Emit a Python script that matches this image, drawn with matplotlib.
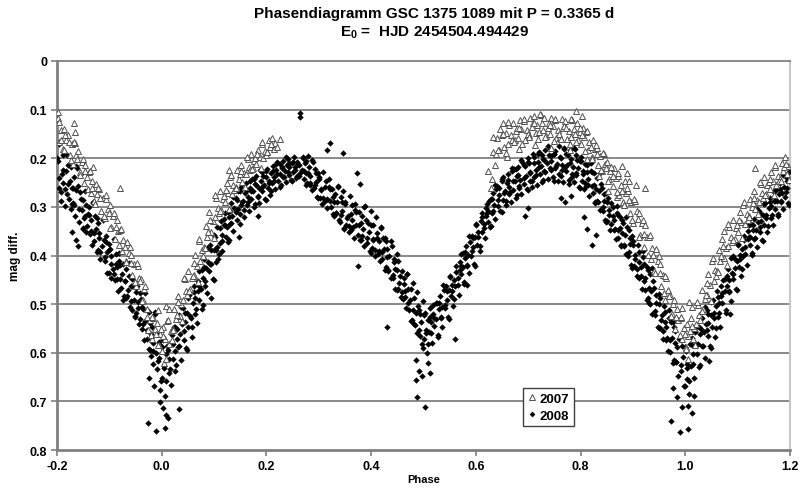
import matplotlib
matplotlib.use("Agg")
import matplotlib.pyplot as plt
from matplotlib.lines import Line2D

plt.rcParams["font.family"] = ["Liberation Sans", "DejaVu Sans"]
plt.rcParams["mathtext.fontset"] = "custom"
plt.rcParams["mathtext.rm"] = "Liberation Sans"
plt.rcParams["mathtext.bf"] = "Liberation Sans:bold"

title_1 = "Phasendiagramm GSC 1375 1089 mit P = 0.3365 d"
title_2 = r"E$_\mathbf{0}$ =  HJD 2454504.494429"
x_label = "Phase"
y_label = "mag diff."
x_ticks = [-0.2, 0.0, 0.2, 0.4, 0.6, 0.8, 1.0, 1.2]
x_tick_labels = ["-0.2", "0.0", "0.2", "0.4", "0.6", "0.8", "1.0", "1.2"]
y_ticks = [0, 0.1, 0.2, 0.3, 0.4, 0.5, 0.6, 0.7, 0.8]
y_tick_labels = ["0", "0.1", "0.2", "0.3", "0.4", "0.5", "0.6", "0.7", "0.8"]
series_names = ["2007", "2008"]

pts_2008 = [
    (-0.199, 0.205), (-0.197, 0.262), (-0.196, 0.171), (-0.193, 0.288), (-0.191, 0.233),
    (-0.189, 0.251), (-0.188, 0.193), (-0.185, 0.298), (-0.183, 0.226), (-0.181, 0.274),
    (-0.179, 0.214), (-0.177, 0.283), (-0.175, 0.247), (-0.174, 0.305), (-0.171, 0.262),
    (-0.169, 0.292), (-0.167, 0.238), (-0.165, 0.318), (-0.163, 0.266), (-0.162, 0.221),
    (-0.171, 0.352), (-0.163, 0.368), (-0.160, 0.381),
    (-0.159, 0.257), (-0.158, 0.331), (-0.155, 0.284), (-0.153, 0.306), (-0.151, 0.345),
    (-0.149, 0.322), (-0.147, 0.268), (-0.145, 0.351), (-0.144, 0.297), (-0.141, 0.314),
    (-0.139, 0.301), (-0.137, 0.356), (-0.135, 0.327), (-0.133, 0.378), (-0.132, 0.289),
    (-0.129, 0.371), (-0.127, 0.318), (-0.126, 0.346), (-0.123, 0.392), (-0.121, 0.334),
    (-0.119, 0.354), (-0.118, 0.407), (-0.115, 0.381), (-0.113, 0.326), (-0.111, 0.368),
    (-0.109, 0.412), (-0.107, 0.359), (-0.105, 0.393), (-0.104, 0.436), (-0.101, 0.377),
    (-0.099, 0.386), (-0.097, 0.447), (-0.096, 0.402), (-0.093, 0.428), (-0.091, 0.367),
    (-0.089, 0.451), (-0.088, 0.397), (-0.085, 0.424), (-0.083, 0.472), (-0.081, 0.411),
    (-0.079, 0.419), (-0.077, 0.466), (-0.075, 0.438), (-0.074, 0.491), (-0.071, 0.453),
    (-0.069, 0.487), (-0.068, 0.428), (-0.065, 0.471), (-0.063, 0.443), (-0.061, 0.506),
    (-0.059, 0.462), (-0.057, 0.513), (-0.056, 0.448), (-0.053, 0.491), (-0.051, 0.527),
    (-0.049, 0.518), (-0.047, 0.463), (-0.045, 0.496), (-0.044, 0.541), (-0.041, 0.477),
    (-0.039, 0.489), (-0.037, 0.552), (-0.036, 0.511), (-0.033, 0.574), (-0.031, 0.534),
    (-0.029, 0.571), (-0.028, 0.512), (-0.025, 0.593), (-0.023, 0.538), (-0.021, 0.607),
    (-0.027, 0.745), (-0.024, 0.652),
    (-0.019, 0.548), (-0.017, 0.623), (-0.016, 0.579), (-0.013, 0.521), (-0.011, 0.601),
    (-0.015, 0.668),
    (-0.009, 0.634), (-0.007, 0.562), (-0.006, 0.611), (-0.003, 0.676), (-0.001, 0.587),
    (-0.010, 0.760), (-0.004, 0.702),
    (0.001, 0.652), (0.003, 0.574), (0.004, 0.628), (0.007, 0.689), (0.009, 0.603),
    (0.006, 0.755), (0.002, 0.714), (0.008, 0.728),
    (0.011, 0.586), (0.013, 0.641), (0.014, 0.612), (0.017, 0.667), (0.019, 0.558),
    (0.012, 0.735),
    (0.021, 0.613), (0.023, 0.547), (0.025, 0.596), (0.026, 0.638), (0.029, 0.571),
    (0.031, 0.589), (0.033, 0.522), (0.035, 0.561), (0.036, 0.614), (0.039, 0.541),
    (0.033, 0.715),
    (0.041, 0.508), (0.043, 0.573), (0.045, 0.536), (0.047, 0.591), (0.049, 0.519),
    (0.051, 0.547), (0.052, 0.482), (0.055, 0.528), (0.057, 0.568), (0.059, 0.497),
    (0.061, 0.463), (0.063, 0.521), (0.064, 0.487), (0.067, 0.539), (0.069, 0.472),
    (0.071, 0.492), (0.072, 0.431), (0.075, 0.468), (0.077, 0.509), (0.079, 0.446),
    (0.081, 0.407), (0.083, 0.462), (0.085, 0.426), (0.086, 0.478), (0.089, 0.413),
    (0.091, 0.431), (0.093, 0.378), (0.094, 0.417), (0.097, 0.449), (0.099, 0.389),
    (0.095, 0.487),
    (0.101, 0.362), (0.103, 0.414), (0.105, 0.383), (0.106, 0.341), (0.109, 0.397),
    (0.111, 0.374), (0.113, 0.329), (0.115, 0.358), (0.116, 0.391), (0.119, 0.338),
    (0.121, 0.312), (0.123, 0.361), (0.124, 0.341), (0.127, 0.373), (0.129, 0.321),
    (0.131, 0.336), (0.133, 0.293), (0.135, 0.318), (0.136, 0.349), (0.139, 0.302),
    (0.141, 0.281), (0.143, 0.327), (0.145, 0.304), (0.146, 0.268), (0.149, 0.315),
    (0.148, 0.362),
    (0.151, 0.296), (0.152, 0.259), (0.155, 0.288), (0.157, 0.321), (0.159, 0.272),
    (0.161, 0.251), (0.163, 0.297), (0.164, 0.279), (0.167, 0.308), (0.169, 0.262),
    (0.171, 0.284), (0.173, 0.243), (0.175, 0.268), (0.176, 0.301), (0.179, 0.252),
    (0.181, 0.237), (0.183, 0.279), (0.185, 0.261), (0.186, 0.292), (0.189, 0.246),
    (0.184, 0.318),
    (0.191, 0.268), (0.192, 0.229), (0.195, 0.254), (0.197, 0.283), (0.199, 0.238),
    (0.201, 0.222), (0.203, 0.261), (0.204, 0.247), (0.207, 0.276), (0.209, 0.231),
    (0.211, 0.251), (0.213, 0.216), (0.215, 0.239), (0.216, 0.264), (0.219, 0.224),
    (0.221, 0.208), (0.223, 0.247), (0.225, 0.233), (0.226, 0.259), (0.229, 0.218),
    (0.231, 0.238), (0.232, 0.206), (0.235, 0.227), (0.237, 0.249), (0.239, 0.214),
    (0.241, 0.202), (0.243, 0.234), (0.244, 0.219), (0.247, 0.244), (0.249, 0.209),
    (0.251, 0.229), (0.253, 0.197), (0.255, 0.217), (0.256, 0.241), (0.259, 0.208),
    (0.261, 0.211), (0.262, 0.236), (0.264, 0.115), (0.265, 0.107), (0.267, 0.224),
    (0.269, 0.198),
    (0.271, 0.243), (0.273, 0.209), (0.275, 0.231), (0.276, 0.256), (0.279, 0.196),
    (0.281, 0.218), (0.283, 0.254), (0.284, 0.237), (0.287, 0.266), (0.289, 0.207),
    (0.291, 0.261), (0.292, 0.222), (0.295, 0.248), (0.297, 0.279), (0.299, 0.231),
    (0.301, 0.239), (0.303, 0.282), (0.304, 0.263), (0.307, 0.294), (0.309, 0.228),
    (0.311, 0.287), (0.313, 0.246), (0.315, 0.183), (0.316, 0.303), (0.319, 0.259),
    (0.321, 0.168), (0.322, 0.264), (0.324, 0.301), (0.327, 0.279), (0.329, 0.318),
    (0.331, 0.273), (0.333, 0.312), (0.335, 0.291), (0.336, 0.258), (0.339, 0.327),
    (0.341, 0.331), (0.343, 0.279), (0.345, 0.308), (0.346, 0.189), (0.349, 0.344),
    (0.347, 0.267),
    (0.351, 0.289), (0.352, 0.337), (0.355, 0.319), (0.357, 0.352), (0.359, 0.277),
    (0.361, 0.347), (0.363, 0.296), (0.364, 0.328), (0.367, 0.363), (0.369, 0.306),
    (0.371, 0.311), (0.373, 0.231), (0.374, 0.358), (0.375, 0.421), (0.377, 0.337),
    (0.379, 0.252),
    (0.381, 0.369), (0.383, 0.318), (0.385, 0.346), (0.386, 0.381), (0.389, 0.299),
    (0.391, 0.327), (0.392, 0.374), (0.395, 0.352), (0.397, 0.391), (0.399, 0.309),
    (0.401, 0.384), (0.403, 0.338), (0.404, 0.366), (0.407, 0.402), (0.409, 0.321),
    (0.411, 0.353), (0.413, 0.396), (0.415, 0.371), (0.416, 0.411), (0.419, 0.342),
    (0.421, 0.408), (0.422, 0.364), (0.425, 0.387), (0.427, 0.429), (0.429, 0.371),
    (0.430, 0.548), (0.431, 0.387), (0.433, 0.431), (0.434, 0.402), (0.437, 0.447),
    (0.439, 0.381),
    (0.441, 0.446), (0.443, 0.408), (0.445, 0.427), (0.446, 0.468), (0.449, 0.396),
    (0.451, 0.412), (0.452, 0.469), (0.455, 0.443), (0.457, 0.486), (0.459, 0.431),
    (0.461, 0.489), (0.463, 0.447), (0.464, 0.472), (0.467, 0.508), (0.469, 0.438),
    (0.471, 0.468), (0.473, 0.512), (0.475, 0.491), (0.476, 0.534), (0.479, 0.456),
    (0.481, 0.541), (0.482, 0.487), (0.485, 0.518), (0.486, 0.614), (0.487, 0.559),
    (0.489, 0.503),
    (0.491, 0.512), (0.492, 0.638), (0.493, 0.566), (0.495, 0.537), (0.497, 0.582),
    (0.499, 0.494), (0.488, 0.692), (0.485, 0.657),
    (0.501, 0.571), (0.502, 0.519), (0.503, 0.711), (0.505, 0.553), (0.506, 0.601),
    (0.508, 0.622), (0.509, 0.532), (0.497, 0.648),
    (0.511, 0.558), (0.512, 0.641), (0.513, 0.507), (0.515, 0.536), (0.517, 0.579),
    (0.519, 0.521),
    (0.521, 0.546), (0.523, 0.498), (0.524, 0.531), (0.527, 0.567), (0.529, 0.509),
    (0.531, 0.484), (0.533, 0.527), (0.535, 0.506), (0.536, 0.548), (0.539, 0.471),
    (0.541, 0.507), (0.543, 0.463), (0.545, 0.492), (0.546, 0.526), (0.549, 0.471),
    (0.551, 0.443), (0.553, 0.484), (0.555, 0.461), (0.556, 0.503), (0.559, 0.451),
    (0.560, 0.571), (0.561, 0.462), (0.563, 0.421), (0.565, 0.447), (0.567, 0.481),
    (0.569, 0.429),
    (0.571, 0.438), (0.572, 0.397), (0.575, 0.424), (0.577, 0.458), (0.579, 0.406),
    (0.581, 0.381), (0.583, 0.422), (0.584, 0.461), (0.585, 0.398), (0.587, 0.436),
    (0.589, 0.372),
    (0.591, 0.401), (0.593, 0.359), (0.595, 0.383), (0.596, 0.417), (0.599, 0.362),
    (0.601, 0.337), (0.603, 0.378), (0.604, 0.352), (0.607, 0.391), (0.609, 0.329),
    (0.611, 0.351), (0.612, 0.312), (0.615, 0.336), (0.617, 0.364), (0.619, 0.318),
    (0.621, 0.294), (0.623, 0.331), (0.624, 0.309), (0.627, 0.342), (0.629, 0.283),
    (0.631, 0.313), (0.633, 0.271), (0.635, 0.296), (0.636, 0.324), (0.639, 0.263),
    (0.641, 0.257), (0.643, 0.298), (0.644, 0.276), (0.647, 0.309), (0.649, 0.243),
    (0.651, 0.286), (0.652, 0.239), (0.655, 0.268), (0.657, 0.297), (0.659, 0.251),
    (0.661, 0.232), (0.663, 0.274), (0.664, 0.259), (0.667, 0.289), (0.669, 0.221),
    (0.671, 0.266), (0.672, 0.223), (0.675, 0.247), (0.677, 0.281), (0.679, 0.236),
    (0.681, 0.219), (0.683, 0.261), (0.684, 0.244), (0.687, 0.274), (0.689, 0.207),
    (0.691, 0.252), (0.692, 0.214), (0.694, 0.318), (0.695, 0.236), (0.697, 0.264),
    (0.699, 0.199),
    (0.700, 0.302), (0.701, 0.209), (0.703, 0.247), (0.704, 0.228), (0.707, 0.259),
    (0.709, 0.192),
    (0.711, 0.238), (0.712, 0.197), (0.715, 0.224), (0.717, 0.254), (0.719, 0.207),
    (0.721, 0.188), (0.723, 0.232), (0.724, 0.216), (0.727, 0.248), (0.729, 0.201),
    (0.731, 0.227), (0.732, 0.183), (0.735, 0.209), (0.737, 0.243), (0.739, 0.194),
    (0.741, 0.179), (0.743, 0.224), (0.744, 0.206), (0.747, 0.238), (0.749, 0.191),
    (0.751, 0.221), (0.752, 0.186), (0.755, 0.212), (0.757, 0.246), (0.759, 0.174),
    (0.761, 0.197), (0.762, 0.281), (0.763, 0.236), (0.764, 0.213), (0.767, 0.249),
    (0.769, 0.178),
    (0.771, 0.289), (0.772, 0.227), (0.773, 0.191), (0.775, 0.214), (0.777, 0.252),
    (0.779, 0.183),
    (0.781, 0.277), (0.782, 0.202), (0.783, 0.238), (0.785, 0.219), (0.787, 0.249),
    (0.789, 0.181),
    (0.791, 0.234), (0.792, 0.193), (0.795, 0.221), (0.797, 0.259), (0.799, 0.206),
    (0.801, 0.198), (0.803, 0.247), (0.804, 0.227), (0.806, 0.321), (0.807, 0.263),
    (0.809, 0.211),
    (0.811, 0.258), (0.812, 0.346), (0.813, 0.214), (0.815, 0.243), (0.817, 0.277),
    (0.819, 0.226),
    (0.821, 0.229), (0.822, 0.378), (0.823, 0.271), (0.825, 0.254), (0.827, 0.292),
    (0.829, 0.357),
    (0.831, 0.287), (0.832, 0.241), (0.835, 0.268), (0.837, 0.306), (0.839, 0.253),
    (0.841, 0.262), (0.843, 0.309), (0.844, 0.288), (0.847, 0.327), (0.849, 0.271),
    (0.851, 0.329), (0.852, 0.281), (0.855, 0.307), (0.857, 0.348), (0.859, 0.293),
    (0.861, 0.301), (0.863, 0.347), (0.864, 0.328), (0.867, 0.366), (0.869, 0.312),
    (0.871, 0.364), (0.872, 0.317), (0.875, 0.343), (0.877, 0.381), (0.879, 0.326),
    (0.881, 0.333), (0.883, 0.378), (0.884, 0.357), (0.887, 0.396), (0.889, 0.341),
    (0.891, 0.401), (0.892, 0.348), (0.895, 0.377), (0.897, 0.419), (0.899, 0.359),
    (0.901, 0.371), (0.903, 0.421), (0.904, 0.398), (0.907, 0.442), (0.909, 0.378),
    (0.911, 0.446), (0.912, 0.392), (0.915, 0.423), (0.917, 0.469), (0.919, 0.404),
    (0.921, 0.418), (0.923, 0.471), (0.924, 0.447), (0.927, 0.492), (0.929, 0.429),
    (0.931, 0.497), (0.932, 0.438), (0.935, 0.472), (0.937, 0.521), (0.939, 0.453),
    (0.941, 0.466), (0.943, 0.523), (0.944, 0.498), (0.947, 0.548), (0.949, 0.479),
    (0.951, 0.549), (0.952, 0.488), (0.955, 0.522), (0.957, 0.571), (0.959, 0.503),
    (0.961, 0.517), (0.963, 0.574), (0.964, 0.548), (0.967, 0.596), (0.969, 0.529),
    (0.971, 0.598), (0.972, 0.536), (0.973, 0.741), (0.975, 0.569), (0.977, 0.622),
    (0.979, 0.547), (0.976, 0.672),
    (0.981, 0.556), (0.983, 0.619), (0.984, 0.589), (0.987, 0.648), (0.989, 0.762),
    (0.988, 0.571), (0.985, 0.691),
    (0.991, 0.637), (0.992, 0.574), (0.995, 0.608), (0.997, 0.668), (0.999, 0.589),
    (0.994, 0.712),
    (1.001, 0.597), (1.003, 0.653), (1.004, 0.624), (1.005, 0.756), (1.007, 0.684),
    (1.009, 0.581), (1.006, 0.709),
    (1.011, 0.627), (1.012, 0.569), (1.013, 0.724), (1.015, 0.602), (1.017, 0.651),
    (1.019, 0.558), (1.016, 0.688),
    (1.021, 0.548), (1.023, 0.603), (1.024, 0.581), (1.027, 0.629), (1.029, 0.562),
    (1.031, 0.586), (1.032, 0.529), (1.035, 0.558), (1.037, 0.611), (1.039, 0.541),
    (1.041, 0.512), (1.043, 0.566), (1.044, 0.538), (1.047, 0.586), (1.049, 0.523),
    (1.045, 0.617),
    (1.051, 0.547), (1.052, 0.491), (1.055, 0.519), (1.057, 0.568), (1.059, 0.503),
    (1.061, 0.472), (1.063, 0.526), (1.064, 0.497), (1.067, 0.547), (1.069, 0.483),
    (1.071, 0.498), (1.072, 0.451), (1.075, 0.473), (1.077, 0.519), (1.079, 0.462),
    (1.081, 0.427), (1.083, 0.476), (1.084, 0.451), (1.087, 0.494), (1.089, 0.436),
    (1.085, 0.521),
    (1.091, 0.448), (1.092, 0.401), (1.095, 0.426), (1.097, 0.469), (1.099, 0.412),
    (1.101, 0.377), (1.103, 0.424), (1.104, 0.398), (1.107, 0.443), (1.109, 0.386),
    (1.111, 0.401), (1.112, 0.359), (1.115, 0.382), (1.117, 0.419), (1.119, 0.366),
    (1.121, 0.338), (1.123, 0.379), (1.124, 0.361), (1.127, 0.398), (1.129, 0.347),
    (1.131, 0.366), (1.132, 0.324), (1.135, 0.347), (1.137, 0.383), (1.139, 0.331),
    (1.141, 0.309), (1.143, 0.351), (1.144, 0.329), (1.147, 0.368), (1.149, 0.317),
    (1.151, 0.337), (1.152, 0.293), (1.155, 0.316), (1.157, 0.352), (1.159, 0.302),
    (1.161, 0.281), (1.163, 0.322), (1.164, 0.299), (1.167, 0.338), (1.169, 0.287),
    (1.171, 0.304), (1.172, 0.266), (1.175, 0.287), (1.177, 0.319), (1.179, 0.273),
    (1.181, 0.251), (1.183, 0.291), (1.184, 0.272), (1.187, 0.304), (1.189, 0.259),
    (1.191, 0.279), (1.192, 0.238), (1.195, 0.261), (1.197, 0.293), (1.198, 0.246),
    (1.199, 0.228),
    # second pass through the cloud, filling the gaps
    (-0.200, 0.199), (-0.196, 0.241), (-0.192, 0.269), (-0.188, 0.224), (-0.185, 0.263),
    (-0.181, 0.194), (-0.179, 0.253), (-0.174, 0.217), (-0.172, 0.295), (-0.170, 0.261),
    (-0.167, 0.297), (-0.163, 0.216), (-0.158, 0.305), (-0.156, 0.269), (-0.151, 0.344),
    (-0.150, 0.285), (-0.146, 0.318), (-0.142, 0.340), (-0.138, 0.316), (-0.135, 0.349),
    (-0.131, 0.292), (-0.129, 0.353), (-0.124, 0.323), (-0.122, 0.388), (-0.120, 0.363),
    (-0.117, 0.393), (-0.113, 0.325), (-0.108, 0.403), (-0.106, 0.373), (-0.101, 0.435),
    (-0.100, 0.388), (-0.096, 0.418), (-0.092, 0.438), (-0.088, 0.418), (-0.085, 0.448),
    (-0.081, 0.395), (-0.079, 0.448), (-0.074, 0.418), (-0.072, 0.483), (-0.070, 0.453),
    (-0.067, 0.483), (-0.063, 0.415), (-0.058, 0.493), (-0.056, 0.463), (-0.051, 0.525),
    (-0.050, 0.475), (-0.046, 0.508), (-0.042, 0.530), (-0.038, 0.505), (-0.035, 0.541),
    (-0.031, 0.478), (-0.029, 0.553), (-0.024, 0.517), (-0.022, 0.595), (-0.020, 0.561),
    (-0.017, 0.597), (-0.013, 0.516), (-0.008, 0.616), (-0.006, 0.577), (-0.001, 0.659),
    (0.000, 0.589), (0.004, 0.631), (0.008, 0.659), (0.012, 0.594), (0.015, 0.633),
    (0.019, 0.564), (0.021, 0.583), (0.026, 0.547), (0.028, 0.625), (0.030, 0.551),
    (0.033, 0.587), (0.037, 0.506), (0.042, 0.555), (0.044, 0.519), (0.049, 0.594),
    (0.050, 0.488), (0.054, 0.524), (0.058, 0.548), (0.062, 0.476), (0.065, 0.509),
    (0.069, 0.452), (0.071, 0.463), (0.076, 0.430), (0.078, 0.501), (0.080, 0.423),
    (0.083, 0.453), (0.087, 0.385), (0.092, 0.418), (0.094, 0.388), (0.099, 0.450),
    (0.100, 0.358), (0.104, 0.388), (0.108, 0.408), (0.112, 0.344), (0.115, 0.371),
    (0.119, 0.324), (0.121, 0.337), (0.126, 0.310), (0.128, 0.369), (0.130, 0.309),
    (0.133, 0.333), (0.137, 0.279), (0.142, 0.310), (0.144, 0.286), (0.149, 0.336),
    (0.150, 0.267), (0.154, 0.291), (0.158, 0.307), (0.162, 0.265), (0.165, 0.289),
    (0.169, 0.247), (0.171, 0.267), (0.176, 0.243), (0.178, 0.295), (0.180, 0.254),
    (0.183, 0.278), (0.187, 0.224), (0.192, 0.260), (0.194, 0.236), (0.199, 0.286),
    (0.200, 0.227), (0.204, 0.251), (0.208, 0.267), (0.212, 0.226), (0.215, 0.247),
    (0.219, 0.211), (0.221, 0.232), (0.226, 0.211), (0.228, 0.256), (0.230, 0.221),
    (0.233, 0.239), (0.237, 0.198), (0.242, 0.228), (0.244, 0.210), (0.249, 0.247),
    (0.250, 0.207), (0.254, 0.225), (0.258, 0.237), (0.262, 0.213), (0.265, 0.231),
    (0.269, 0.199), (0.271, 0.227), (0.276, 0.206), (0.278, 0.251), (0.280, 0.230),
    (0.283, 0.251), (0.287, 0.204), (0.292, 0.255), (0.294, 0.231), (0.299, 0.281),
    (0.300, 0.242), (0.304, 0.266), (0.308, 0.282), (0.312, 0.260), (0.315, 0.284),
    (0.319, 0.242), (0.321, 0.287), (0.326, 0.263), (0.328, 0.315), (0.330, 0.289),
    (0.333, 0.313), (0.337, 0.259), (0.342, 0.316), (0.344, 0.289), (0.349, 0.346),
    (0.350, 0.295), (0.354, 0.322), (0.358, 0.340), (0.362, 0.314), (0.365, 0.341),
    (0.369, 0.294), (0.371, 0.337), (0.376, 0.310), (0.378, 0.369), (0.380, 0.333),
    (0.383, 0.360), (0.387, 0.300), (0.392, 0.363), (0.394, 0.333), (0.399, 0.395),
    (0.400, 0.338), (0.404, 0.368), (0.408, 0.388), (0.412, 0.364), (0.415, 0.391),
    (0.419, 0.344), (0.421, 0.392), (0.426, 0.365), (0.428, 0.424), (0.430, 0.403),
    (0.433, 0.430), (0.437, 0.370), (0.442, 0.441), (0.444, 0.414), (0.449, 0.471),
    (0.450, 0.430), (0.454, 0.457), (0.458, 0.475), (0.462, 0.459), (0.465, 0.486),
    (0.469, 0.439), (0.471, 0.498), (0.476, 0.468), (0.478, 0.533), (0.480, 0.513),
    (0.483, 0.543), (0.487, 0.475), (0.492, 0.554), (0.494, 0.521), (0.499, 0.590),
    (0.500, 0.523), (0.504, 0.559), (0.508, 0.583), (0.512, 0.526), (0.515, 0.559),
    (0.519, 0.502), (0.521, 0.528), (0.526, 0.498), (0.528, 0.563), (0.530, 0.498),
    (0.533, 0.528), (0.537, 0.460), (0.542, 0.501), (0.544, 0.474), (0.549, 0.531),
    (0.550, 0.445), (0.554, 0.472), (0.558, 0.490), (0.562, 0.434), (0.565, 0.461),
    (0.569, 0.414), (0.571, 0.422), (0.576, 0.395), (0.578, 0.454), (0.580, 0.393),
    (0.583, 0.420), (0.587, 0.360), (0.592, 0.391), (0.594, 0.364), (0.599, 0.421),
    (0.600, 0.335), (0.604, 0.362), (0.608, 0.380), (0.612, 0.320), (0.615, 0.344),
    (0.619, 0.302), (0.621, 0.312), (0.626, 0.288), (0.628, 0.340), (0.630, 0.284),
    (0.633, 0.308), (0.637, 0.254), (0.642, 0.285), (0.644, 0.261), (0.649, 0.311),
    (0.650, 0.247), (0.654, 0.271), (0.658, 0.287), (0.662, 0.245), (0.665, 0.269),
    (0.669, 0.227), (0.671, 0.247), (0.676, 0.223), (0.678, 0.275), (0.680, 0.234),
    (0.683, 0.258), (0.687, 0.204), (0.692, 0.240), (0.694, 0.216), (0.699, 0.266),
    (0.700, 0.207), (0.704, 0.231), (0.708, 0.247), (0.712, 0.210), (0.715, 0.234),
    (0.719, 0.192), (0.721, 0.217), (0.726, 0.193), (0.728, 0.245), (0.730, 0.204),
    (0.733, 0.228), (0.737, 0.174), (0.742, 0.220), (0.744, 0.196), (0.749, 0.246),
    (0.750, 0.192), (0.754, 0.216), (0.758, 0.232), (0.762, 0.200), (0.765, 0.224),
    (0.769, 0.182), (0.771, 0.217), (0.776, 0.193), (0.778, 0.245), (0.780, 0.209),
    (0.783, 0.233), (0.787, 0.179), (0.792, 0.231), (0.794, 0.204), (0.799, 0.261),
    (0.800, 0.205), (0.804, 0.232), (0.808, 0.250), (0.812, 0.229), (0.815, 0.256),
    (0.819, 0.209), (0.821, 0.257), (0.826, 0.230), (0.828, 0.289), (0.830, 0.263),
    (0.833, 0.290), (0.837, 0.230), (0.842, 0.301), (0.844, 0.274), (0.849, 0.331),
    (0.850, 0.290), (0.854, 0.317), (0.858, 0.335), (0.862, 0.319), (0.865, 0.346),
    (0.869, 0.299), (0.871, 0.347), (0.876, 0.320), (0.878, 0.379), (0.880, 0.353),
    (0.883, 0.380), (0.887, 0.320), (0.892, 0.393), (0.894, 0.363), (0.899, 0.425),
    (0.900, 0.378), (0.904, 0.408), (0.908, 0.428), (0.912, 0.413), (0.915, 0.443),
    (0.919, 0.390), (0.921, 0.453), (0.926, 0.423), (0.928, 0.488), (0.930, 0.467),
    (0.933, 0.500), (0.937, 0.426), (0.942, 0.514), (0.944, 0.481), (0.949, 0.550),
    (0.950, 0.500), (0.954, 0.533), (0.958, 0.555), (0.962, 0.536), (0.965, 0.569),
    (0.969, 0.512), (0.971, 0.573), (0.976, 0.537), (0.978, 0.615), (0.980, 0.580),
    (0.983, 0.619), (0.987, 0.532), (0.992, 0.626), (0.994, 0.587), (0.999, 0.669),
    (1.000, 0.589), (1.004, 0.631), (1.008, 0.659), (1.012, 0.584), (1.015, 0.623),
    (1.019, 0.555), (1.021, 0.583), (1.026, 0.547), (1.028, 0.625), (1.030, 0.551),
    (1.033, 0.587), (1.037, 0.506), (1.042, 0.554), (1.044, 0.521), (1.049, 0.590),
    (1.050, 0.495), (1.054, 0.528), (1.058, 0.550), (1.062, 0.486), (1.065, 0.519),
    (1.069, 0.462), (1.071, 0.478), (1.076, 0.448), (1.078, 0.513), (1.080, 0.443),
    (1.083, 0.473), (1.087, 0.405), (1.092, 0.438), (1.094, 0.408), (1.099, 0.470),
    (1.100, 0.378), (1.104, 0.408), (1.108, 0.428), (1.112, 0.369), (1.115, 0.396),
    (1.119, 0.349), (1.121, 0.362), (1.126, 0.335), (1.128, 0.394), (1.130, 0.338),
    (1.133, 0.365), (1.137, 0.305), (1.142, 0.341), (1.144, 0.314), (1.149, 0.371),
    (1.150, 0.295), (1.154, 0.322), (1.158, 0.340), (1.162, 0.289), (1.165, 0.316),
    (1.169, 0.269), (1.171, 0.287), (1.176, 0.263), (1.178, 0.315), (1.180, 0.264),
    (1.183, 0.288), (1.187, 0.234), (1.192, 0.270), (1.194, 0.246), (1.199, 0.296),
]

# 2007 observations (phase, mag diff.)
pts_2007 = [
    (-0.199, 0.118), (-0.196, 0.167), (-0.193, 0.142), (-0.198, 0.105),
    (-0.189, 0.181), (-0.186, 0.139), (-0.182, 0.163),
    (-0.179, 0.152), (-0.176, 0.194), (-0.172, 0.171),
    (-0.169, 0.211), (-0.166, 0.168), (-0.163, 0.193), (-0.168, 0.127), (-0.165, 0.145),
    (-0.159, 0.186), (-0.156, 0.229), (-0.153, 0.207),
    (-0.149, 0.251), (-0.146, 0.213), (-0.143, 0.238),
    (-0.139, 0.228), (-0.136, 0.271), (-0.133, 0.247), (-0.131, 0.218),
    (-0.129, 0.288), (-0.126, 0.252), (-0.123, 0.274),
    (-0.119, 0.263), (-0.116, 0.309), (-0.113, 0.281),
    (-0.109, 0.322), (-0.106, 0.284), (-0.103, 0.304),
    (-0.099, 0.297), (-0.096, 0.341), (-0.093, 0.318),
    (-0.089, 0.366), (-0.086, 0.327), (-0.083, 0.349),
    (-0.079, 0.348), (-0.076, 0.391), (-0.073, 0.368), (-0.080, 0.262),
    (-0.069, 0.412), (-0.066, 0.372), (-0.063, 0.394),
    (-0.059, 0.398), (-0.056, 0.441), (-0.053, 0.417),
    (-0.049, 0.463), (-0.046, 0.421), (-0.043, 0.446),
    (-0.039, 0.449), (-0.036, 0.492), (-0.033, 0.468),
    (-0.029, 0.511), (-0.026, 0.553), (-0.023, 0.532),
    (-0.019, 0.571), (-0.016, 0.529), (-0.013, 0.552),
    (-0.009, 0.538), (-0.006, 0.584), (-0.003, 0.561), (-0.008, 0.512),
    (0.001, 0.596), (0.003, 0.547), (0.006, 0.572), (0.008, 0.503), (0.005, 0.622),
    (0.011, 0.534), (0.014, 0.581), (0.017, 0.556), (0.013, 0.511),
    (0.021, 0.552), (0.024, 0.509), (0.027, 0.531),
    (0.031, 0.483), (0.034, 0.524), (0.037, 0.499),
    (0.041, 0.491), (0.044, 0.449), (0.047, 0.472),
    (0.051, 0.431), (0.054, 0.469), (0.057, 0.447),
    (0.061, 0.441), (0.064, 0.398), (0.067, 0.422),
    (0.071, 0.371), (0.074, 0.412), (0.077, 0.389),
    (0.081, 0.382), (0.084, 0.339), (0.087, 0.361),
    (0.091, 0.311), (0.094, 0.352), (0.097, 0.329),
    (0.101, 0.321), (0.104, 0.281), (0.107, 0.302),
    (0.111, 0.267), (0.114, 0.306), (0.117, 0.284),
    (0.121, 0.289), (0.124, 0.251), (0.127, 0.272),
    (0.131, 0.238), (0.134, 0.274), (0.137, 0.256), (0.129, 0.224),
    (0.141, 0.259), (0.144, 0.224), (0.147, 0.242),
    (0.151, 0.214), (0.154, 0.249), (0.157, 0.231),
    (0.161, 0.232), (0.164, 0.201), (0.167, 0.217),
    (0.171, 0.191), (0.174, 0.221), (0.177, 0.206),
    (0.181, 0.211), (0.184, 0.183), (0.187, 0.197),
    (0.191, 0.171), (0.194, 0.199), (0.197, 0.186),
    (0.201, 0.187), (0.204, 0.163), (0.207, 0.176),
    (0.211, 0.159), (0.214, 0.181), (0.217, 0.168),
    (0.221, 0.176), (0.225, 0.161),
    (0.624, 0.226), (0.628, 0.262), (0.631, 0.243),
    (0.633, 0.187), (0.637, 0.214),
    (0.641, 0.158), (0.644, 0.183), (0.647, 0.139),
    (0.651, 0.128), (0.654, 0.176), (0.657, 0.149), (0.659, 0.197),
    (0.661, 0.171), (0.664, 0.131), (0.667, 0.152),
    (0.671, 0.127), (0.674, 0.162), (0.677, 0.143),
    (0.681, 0.158), (0.684, 0.121), (0.687, 0.139), (0.683, 0.181),
    (0.691, 0.124), (0.694, 0.163), (0.697, 0.142),
    (0.701, 0.152), (0.704, 0.117), (0.707, 0.136),
    (0.711, 0.114), (0.714, 0.149), (0.717, 0.131), (0.713, 0.172),
    (0.721, 0.146), (0.724, 0.112), (0.727, 0.128),
    (0.731, 0.118), (0.734, 0.154), (0.737, 0.137),
    (0.741, 0.151), (0.744, 0.117), (0.747, 0.134), (0.743, 0.178),
    (0.751, 0.122), (0.754, 0.159), (0.757, 0.141),
    (0.761, 0.157), (0.764, 0.119), (0.767, 0.138),
    (0.771, 0.124), (0.774, 0.161), (0.777, 0.143), (0.779, 0.183),
    (0.781, 0.156), (0.784, 0.121), (0.787, 0.139),
    (0.791, 0.103), (0.793, 0.127), (0.795, 0.162), (0.798, 0.146),
    (0.801, 0.171), (0.804, 0.138), (0.807, 0.156), (0.803, 0.113),
    (0.811, 0.147), (0.814, 0.183), (0.817, 0.166), (0.813, 0.201),
    (0.821, 0.197), (0.824, 0.162), (0.827, 0.181),
    (0.831, 0.178), (0.834, 0.214), (0.837, 0.196), (0.836, 0.236),
    (0.841, 0.227), (0.844, 0.192), (0.847, 0.211),
    (0.851, 0.208), (0.854, 0.243), (0.857, 0.226), (0.853, 0.267),
    (0.861, 0.257), (0.864, 0.221), (0.867, 0.241), (0.869, 0.279),
    (0.871, 0.236), (0.874, 0.276), (0.877, 0.254), (0.879, 0.216),
    (0.881, 0.291), (0.884, 0.246), (0.887, 0.272), (0.889, 0.231),
    (0.891, 0.268), (0.894, 0.313), (0.897, 0.289), (0.893, 0.246),
    (0.901, 0.333), (0.904, 0.287), (0.907, 0.309), (0.905, 0.256),
    (0.911, 0.312), (0.914, 0.358), (0.917, 0.334),
    (0.921, 0.382), (0.924, 0.337), (0.927, 0.361), (0.923, 0.262),
    (0.931, 0.362), (0.934, 0.408), (0.937, 0.384),
    (0.941, 0.431), (0.944, 0.387), (0.947, 0.411),
    (0.951, 0.418), (0.954, 0.463), (0.957, 0.441),
    (0.961, 0.492), (0.964, 0.447), (0.967, 0.471),
    (0.971, 0.481), (0.974, 0.521), (0.977, 0.499),
    (0.981, 0.551), (0.984, 0.511), (0.987, 0.532),
    (0.991, 0.529), (0.994, 0.571), (0.997, 0.549), (0.993, 0.508),
    (1.001, 0.588), (1.003, 0.541), (1.006, 0.566), (1.008, 0.496), (1.005, 0.612),
    (1.011, 0.528), (1.014, 0.571), (1.017, 0.549), (1.013, 0.505),
    (1.021, 0.541), (1.024, 0.501), (1.027, 0.522),
    (1.031, 0.471), (1.034, 0.511), (1.037, 0.489),
    (1.041, 0.482), (1.044, 0.439), (1.047, 0.461),
    (1.051, 0.411), (1.054, 0.452), (1.057, 0.429),
    (1.061, 0.431), (1.064, 0.389), (1.067, 0.412),
    (1.071, 0.366), (1.074, 0.406), (1.077, 0.384), (1.073, 0.349),
    (1.081, 0.381), (1.084, 0.341), (1.087, 0.362),
    (1.091, 0.326), (1.094, 0.366), (1.097, 0.344),
    (1.101, 0.351), (1.104, 0.311), (1.107, 0.332),
    (1.111, 0.297), (1.114, 0.336), (1.117, 0.314),
    (1.121, 0.318), (1.124, 0.283), (1.127, 0.301),
    (1.131, 0.268), (1.134, 0.304), (1.137, 0.286), (1.133, 0.221),
    (1.141, 0.289), (1.144, 0.253), (1.147, 0.271),
    (1.151, 0.238), (1.154, 0.274), (1.157, 0.256),
    (1.161, 0.263), (1.164, 0.228), (1.167, 0.246),
    (1.171, 0.218), (1.174, 0.254), (1.177, 0.236),
    (1.181, 0.243), (1.184, 0.209), (1.187, 0.227),
    (1.191, 0.198), (1.194, 0.233), (1.197, 0.216),
    # second pass
    (-0.197, 0.126), (-0.192, 0.162), (-0.187, 0.184), (-0.184, 0.152),
    (-0.178, 0.166), (-0.174, 0.204), (-0.167, 0.166), (-0.161, 0.202),
    (-0.157, 0.234), (-0.151, 0.202), (-0.147, 0.226), (-0.141, 0.264),
    (-0.137, 0.226), (-0.134, 0.262), (-0.128, 0.294), (-0.121, 0.262),
    (-0.118, 0.281), (-0.111, 0.319), (-0.107, 0.276), (-0.101, 0.312),
    (-0.098, 0.344), (-0.091, 0.312), (-0.088, 0.341), (-0.081, 0.379),
    (-0.077, 0.346), (-0.071, 0.382), (-0.068, 0.414), (-0.061, 0.382),
    (-0.058, 0.416), (-0.051, 0.454), (-0.048, 0.416), (-0.041, 0.452),
    (-0.038, 0.494), (-0.031, 0.462), (-0.028, 0.526), (-0.021, 0.564),
    (-0.018, 0.526), (-0.011, 0.562), (-0.007, 0.584), (-0.001, 0.552),
    (0.002, 0.565), (0.009, 0.612), (0.012, 0.533), (0.019, 0.574),
    (0.022, 0.554), (0.029, 0.522), (0.032, 0.496), (0.039, 0.534),
    (0.042, 0.446), (0.049, 0.482), (0.052, 0.474), (0.059, 0.442),
    (0.062, 0.416), (0.069, 0.454), (0.072, 0.366), (0.079, 0.402),
    (0.082, 0.384), (0.089, 0.352), (0.092, 0.326), (0.099, 0.364),
    (0.102, 0.276), (0.109, 0.312), (0.112, 0.309), (0.119, 0.277),
    (0.122, 0.266), (0.129, 0.304), (0.132, 0.234), (0.139, 0.266),
    (0.142, 0.261), (0.149, 0.233), (0.152, 0.227), (0.159, 0.260),
    (0.162, 0.197), (0.169, 0.224), (0.172, 0.223), (0.179, 0.199),
    (0.182, 0.192), (0.189, 0.221), (0.192, 0.167), (0.199, 0.194),
    (0.202, 0.187), (0.209, 0.171),
    (0.632, 0.156), (0.639, 0.192), (0.642, 0.184), (0.649, 0.152),
    (0.652, 0.151), (0.658, 0.189), (0.662, 0.126), (0.669, 0.162),
    (0.672, 0.166), (0.679, 0.138), (0.682, 0.137), (0.689, 0.170),
    (0.692, 0.119), (0.699, 0.151), (0.702, 0.156), (0.709, 0.128),
    (0.712, 0.127), (0.719, 0.160), (0.722, 0.109), (0.729, 0.141),
    (0.732, 0.156), (0.739, 0.128), (0.742, 0.132), (0.749, 0.165),
    (0.752, 0.119), (0.759, 0.151), (0.762, 0.161), (0.769, 0.133),
    (0.772, 0.137), (0.779, 0.170), (0.782, 0.119), (0.789, 0.151),
    (0.792, 0.166), (0.799, 0.138), (0.802, 0.152), (0.809, 0.185),
    (0.812, 0.144), (0.819, 0.176), (0.822, 0.201), (0.829, 0.173),
    (0.832, 0.192), (0.839, 0.225), (0.842, 0.189), (0.849, 0.221),
    (0.852, 0.246), (0.859, 0.218), (0.862, 0.237), (0.869, 0.270),
    (0.872, 0.231), (0.879, 0.267), (0.882, 0.297), (0.889, 0.261),
    (0.892, 0.286), (0.899, 0.328), (0.902, 0.283), (0.909, 0.324),
    (0.912, 0.362), (0.919, 0.326), (0.922, 0.356), (0.929, 0.398),
    (0.932, 0.358), (0.939, 0.399), (0.942, 0.437), (0.949, 0.401),
    (0.952, 0.436), (0.959, 0.478), (0.962, 0.443), (0.969, 0.484),
    (0.972, 0.524), (0.979, 0.492), (0.982, 0.526), (0.989, 0.564),
    (0.992, 0.526), (0.999, 0.562), (1.002, 0.592), (1.009, 0.556),
    (1.012, 0.546), (1.019, 0.584), (1.022, 0.496), (1.029, 0.532),
    (1.032, 0.514), (1.039, 0.482), (1.042, 0.456), (1.049, 0.494),
    (1.052, 0.406), (1.059, 0.442), (1.062, 0.434), (1.069, 0.402),
    (1.072, 0.381), (1.079, 0.419), (1.082, 0.336), (1.089, 0.372),
    (1.092, 0.369), (1.099, 0.337), (1.102, 0.326), (1.109, 0.364),
    (1.112, 0.291), (1.119, 0.327), (1.122, 0.321), (1.129, 0.293),
    (1.132, 0.282), (1.139, 0.315), (1.142, 0.249), (1.149, 0.281),
    (1.152, 0.276), (1.159, 0.248), (1.162, 0.242), (1.169, 0.275),
    (1.172, 0.214), (1.179, 0.246), (1.182, 0.246), (1.189, 0.218),
    (1.192, 0.212), (1.198, 0.245),
]

phase_2008 = [p for p, m in pts_2008]
mag_2008 = [m for p, m in pts_2008]
phase_2007 = [p for p, m in pts_2007]
mag_2007 = [m for p, m in pts_2007]

W, H = 802, 489
fig = plt.figure(figsize=(W / 100, H / 100), dpi=100)
ax = fig.add_axes([57 / W, (H - 451) / H, (790 - 57) / W, (451 - 62) / H])

grid_col = "#808080"
for v in y_ticks[1:-1]:
    ax.axhline(v, color=grid_col, lw=1.3, zorder=1)

ax.plot(phase_2008, mag_2008, linestyle="none", marker="D", ms=2.9,
        mfc="black", mec="black", mew=0.3, zorder=3)
ax.plot(phase_2007, mag_2007, linestyle="none", marker="^", ms=4.4,
        mfc="white", mec="#505050", mew=0.7, zorder=4)

ax.set_xlim(-0.2, 1.2)
ax.set_ylim(0.8, 0)
ax.set_xticks(x_ticks)
ax.set_xticklabels(x_tick_labels, fontsize=9, fontweight="bold")
ax.set_yticks(y_ticks)
ax.set_yticklabels(y_tick_labels, fontsize=9, fontweight="bold")
ax.tick_params(axis="both", direction="out", length=4, width=1.2,
               color=grid_col, pad=3)

for side in ["left", "bottom"]:
    ax.spines[side].set_color(grid_col)
    ax.spines[side].set_linewidth(2)
ax.spines["top"].set_color(grid_col)
ax.spines["top"].set_linewidth(1.3)
ax.spines["right"].set_color("#c8c8c8")
ax.spines["right"].set_linewidth(1.5)

ax.set_xlabel(x_label, fontsize=8, fontweight="bold", labelpad=2)
ax.set_ylabel(y_label, fontsize=8.5, fontweight="bold", labelpad=6)

fig.text(434 / W, 1 - 14 / H, title_1, ha="center", va="center",
         fontsize=11, fontweight="bold")
fig.text(434 / W, 1 - 33 / H, title_2, ha="center", va="center",
         fontsize=11, fontweight="bold")

handles = [
    Line2D([], [], linestyle="none", marker="^", ms=4.4, mfc="white",
           mec="#505050", mew=0.7),
    Line2D([], [], linestyle="none", marker="D", ms=2.6, mfc="black",
           mec="black", mew=0.3),
]
leg = ax.legend(handles, series_names, loc="upper left",
                bbox_to_anchor=(523 / W, 1 - 389 / H), bbox_transform=fig.transFigure,
                prop={"size": 9.5, "weight": "bold"}, frameon=True, fancybox=False,
                edgecolor="#404040", framealpha=1, handlelength=0.6,
                handletextpad=0.3, borderpad=0.35, labelspacing=0.35,
                borderaxespad=0)
leg.get_frame().set_linewidth(1.0)
leg.set_zorder(6)

fig.savefig("out.png", dpi=100)
